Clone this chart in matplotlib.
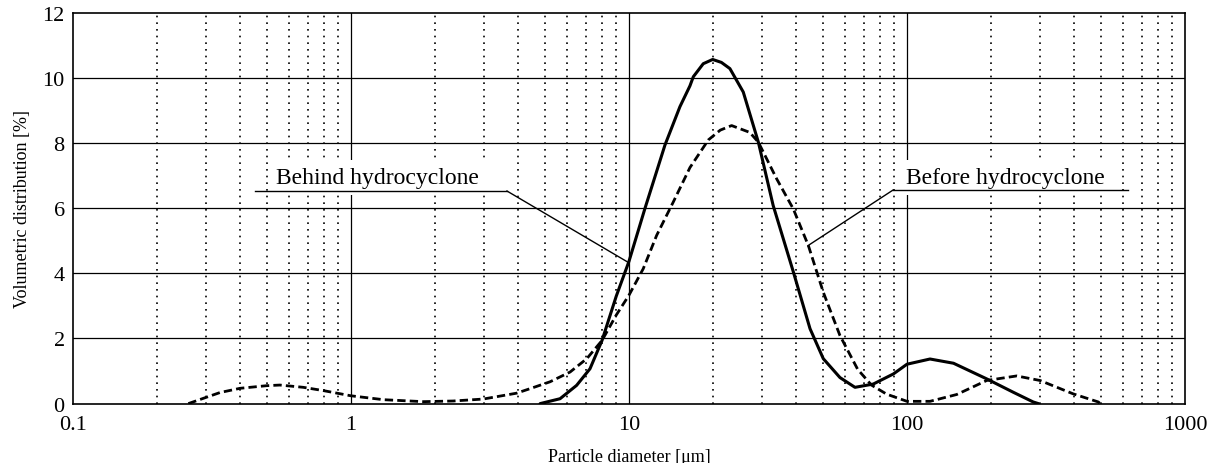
import matplotlib.pyplot as plt
import numpy as np

# =========================
# DATOS
# =========================
# Behind hydrocyclone (linea continua)
d_behind = [4.79, 5.65, 6.48, 7.24, 8.0, 9.0, 10.0, 11.42, 13.47, 15.25, 16.57,
            17.04, 18.5, 20.0, 21.5, 23.07, 25.77, 29.2, 33.0, 39.0, 44.8, 50.0,
            57.4, 65.0, 75.6, 89.3, 100, 121, 147, 193.5, 241, 284.5, 297]
v_behind = [0.0, 0.15, 0.56, 1.07, 1.94, 3.3, 4.37, 6.0, 7.94, 9.12, 9.76,
            10.04, 10.44, 10.57, 10.48, 10.29, 9.57, 8.03, 6.09, 4.05, 2.3, 1.38,
            0.8, 0.5, 0.6, 0.91, 1.21, 1.37, 1.24, 0.76, 0.35, 0.05, 0.0]

# Before hydrocyclone (linea discontinua)
d_before = [0.26, 0.294, 0.338, 0.399, 0.497, 0.555, 0.674, 0.795, 1.0, 1.31, 1.82,
            2.33, 2.99, 3.94, 4.41, 5.2, 6.14, 7.05, 8.0, 9.0, 10.0, 11.25, 12.58,
            14.43, 16.57, 19.3, 21.3, 23.4, 27.2, 29.2, 34.0, 39.0, 44.2, 50.0,
            57.4, 66.5, 74.5, 84.5, 100, 121, 151, 193.5, 248, 301, 396, 488, 495]
v_before = [0.0, 0.16, 0.34, 0.47, 0.55, 0.57, 0.5, 0.4, 0.24, 0.12, 0.06,
            0.08, 0.14, 0.32, 0.46, 0.67, 0.97, 1.38, 1.94, 2.72, 3.33, 4.14, 5.17,
            6.19, 7.25, 8.1, 8.4, 8.54, 8.33, 8.03, 6.9, 5.98, 4.85, 3.42,
            2.09, 1.05, 0.57, 0.29, 0.07, 0.07, 0.28, 0.71, 0.85, 0.71, 0.3, 0.05, 0.0]

x_ticks = [0.1, 1, 10, 100, 1000]
x_tick_labels = ["0.1", "1", "10", "100", "1000"]
y_ticks = [0, 2, 4, 6, 8, 10, 12]

# =========================
# GRAFICO
# =========================
plt.rcParams["font.family"] = ["Liberation Serif", "DejaVu Serif"]

fig = plt.figure(figsize=(12.16, 4.64), dpi=100)
ax = fig.add_axes([0.060, 0.128, 0.9145, 0.842])

ax.set_xscale("log")
ax.set_xlim(0.1, 1000)
ax.set_ylim(0, 12)

# Rejilla
for y in y_ticks[1:-1]:
    ax.axhline(y, color="black", lw=0.9, zorder=1)
for x in [1, 10, 100]:
    ax.axvline(x, color="black", lw=0.9, zorder=1)
for dec in [0.1, 1, 10, 100]:
    for k in range(2, 10):
        ax.axvline(dec * k, color="black", lw=1.2, linestyle=(0, (1, 3)), zorder=1)

# Curvas
ax.plot(d_behind, v_behind, color="black", lw=2.2, zorder=4,
        solid_joinstyle="round", solid_capstyle="round")
ax.plot(d_before, v_before, color="black", lw=2.0, linestyle=(0, (3, 1.5)), zorder=4,
        dash_joinstyle="round")

# Etiquetas con linea de referencia
ax.text(1.25, 6.95, "Behind hydrocyclone", fontsize=17, ha="center", va="center",
        bbox=dict(facecolor="white", edgecolor="none", pad=5), zorder=2)
ax.plot([0.452, 3.64], [6.53, 6.53], color="black", lw=1.0, zorder=3)
ax.plot([3.64, 9.84], [6.53, 4.36], color="black", lw=1.0, zorder=3)

ax.text(225, 6.95, "Before hydrocyclone", fontsize=17, ha="center", va="center",
        bbox=dict(facecolor="white", edgecolor="none", pad=5), zorder=2)
ax.plot([89.1, 623], [6.56, 6.56], color="black", lw=1.0, zorder=3)
ax.plot([89.1, 44.0], [6.56, 4.85], color="black", lw=1.0, zorder=3)

ax.set_xticks(x_ticks)
ax.set_xticklabels(x_tick_labels)
ax.xaxis.set_minor_locator(plt.NullLocator())
ax.set_yticks(y_ticks)
ax.tick_params(axis="both", which="both", length=0, labelsize=16, pad=6)
ax.tick_params(axis="x", pad=8)

for spine in ax.spines.values():
    spine.set_color("black")
    spine.set_linewidth(1.2)

ax.set_xlabel("Particle diameter [μm]", fontsize=13, labelpad=10)
ax.set_ylabel("Volumetric distribution [%]", fontsize=13, labelpad=8)

fig.savefig("out.png", dpi=100)
